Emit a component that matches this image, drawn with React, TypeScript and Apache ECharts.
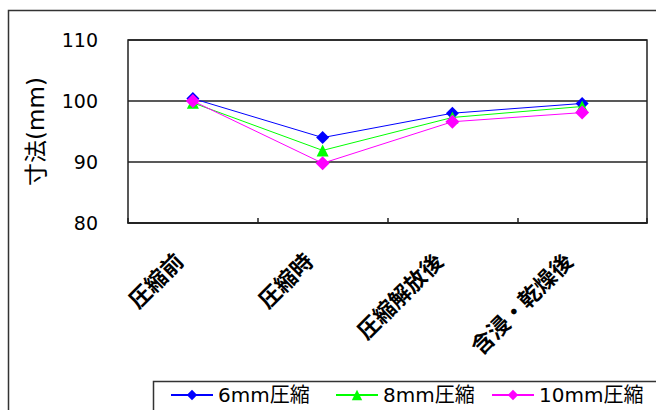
import React, { useEffect, useRef } from "react";
import * as echarts from "echarts";

const stages = ["圧縮前", "圧縮時", "圧縮解放後", "含浸・乾燥後"];
const seriesNames = ["6mm圧縮", "8mm圧縮", "10mm圧縮"];
const seriesColors = ["#0000ff", "#00ff00", "#ff00ff"];
const seriesSymbols = ["diamond", "triangle", "diamond"];
const size6mm = [100.4, 94.0, 98.0, 99.6];
const size8mm = [99.7, 91.9, 97.3, 99.1];
const size10mm = [100.0, 89.8, 96.6, 98.1];
const yTicks = { min: 80, max: 110, interval: 10 };

const JP = "'Noto Sans CJK JP', sans-serif";
const WIDE = "'DejaVu Sans', 'Noto Sans CJK JP', sans-serif";

// left edge of each legend entry inside the framed legend box
const legendLefts = [165, 330, 486];

export default function App() {
  const ref = useRef<HTMLDivElement>(null);

  useEffect(() => {
    document.body.style.margin = "0";
    const chart = echarts.init(ref.current!, null, { renderer: "svg" });
    const values = [size6mm, size8mm, size10mm];
    chart.setOption({
      animation: false,
      backgroundColor: "#ffffff",
      grid: { left: 128, top: 40, right: 9, bottom: 187, show: true, borderColor: "#222", borderWidth: 1.5 },
      xAxis: {
        type: "category",
        data: stages,
        boundaryGap: true,
        axisLine: { lineStyle: { color: "#222", width: 1.5 } },
        axisTick: { show: true, inside: true, length: 5, lineStyle: { color: "#222", width: 1.5 } },
        // stage names are drawn below as slanted texts hung left of each category centre
        axisLabel: { show: false },
      },
      yAxis: {
        type: "value",
        min: yTicks.min,
        max: yTicks.max,
        interval: yTicks.interval,
        name: "寸法(mm)",
        nameLocation: "middle",
        nameRotate: 90,
        nameGap: 81,
        nameTextStyle: { fontSize: 23, color: "#000", fontFamily: WIDE },
        axisLine: { show: false },
        axisTick: { show: false },
        axisLabel: { fontSize: 19, color: "#000", margin: 30, fontFamily: WIDE },
        splitLine: { show: true, lineStyle: { color: "#222", width: 1.5 } },
      },
      legend: seriesNames.map((name, i) => ({
        left: legendLefts[i],
        top: 380,
        itemWidth: 42,
        itemHeight: 13,
        itemGap: 0,
        textStyle: { fontSize: 20, color: "#000", fontFamily: WIDE },
        data: [name],
      })),
      series: seriesNames.map((name, i) => ({
        name,
        type: "line",
        data: values[i],
        symbol: seriesSymbols[i],
        symbolSize: i === 1 ? 12 : i === 2 ? 14 : 13,
        color: seriesColors[i],
        lineStyle: { width: 1, color: seriesColors[i] },
        itemStyle: { color: seriesColors[i] },
      })),
    });

    const axisY = chart.convertToPixel({ yAxisIndex: 0 }, yTicks.min) as number;
    const stageLabels = stages.map((stage) => {
      const cx = chart.convertToPixel({ xAxisIndex: 0 }, stage) as number;
      return {
        type: "text",
        x: cx - 15,
        y: axisY + 33,
        rotation: Math.PI / 4,
        silent: true,
        style: {
          text: stage,
          align: "right",
          verticalAlign: "middle",
          fontSize: 22,
          fontWeight: "bold",
          fontFamily: JP,
          fill: "#000",
        },
      };
    });

    chart.setOption({
      graphic: [
        {
          type: "rect",
          shape: { x: 8.5, y: 10.5, width: 700, height: 500 },
          style: { fill: "none", stroke: "#333", lineWidth: 1.5 },
          silent: true,
        },
        {
          type: "rect",
          shape: { x: 153.5, y: 381.5, width: 600, height: 100 },
          style: { fill: "none", stroke: "#333", lineWidth: 1.5 },
          silent: true,
        },
        ...stageLabels,
      ],
    });
    return () => chart.dispose();
  }, []);

  return <div ref={ref} style={{ width: 656, height: 410 }} />;
}
